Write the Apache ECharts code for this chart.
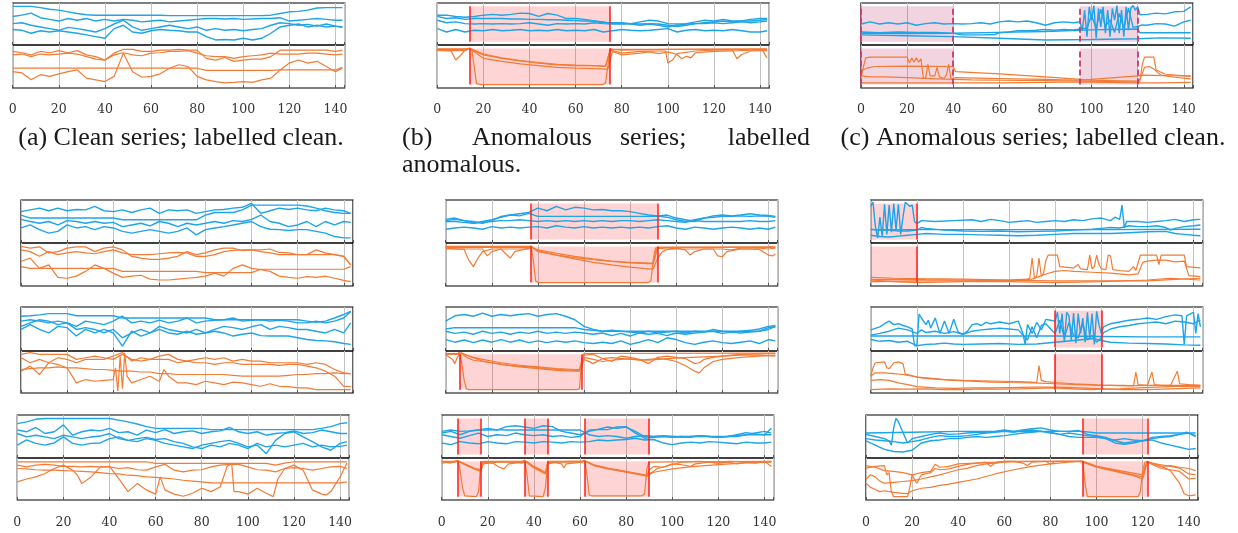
<!DOCTYPE html>
<html><head><meta charset="utf-8">
<script src="https://cdn.jsdelivr.net/npm/echarts@6/dist/echarts.min.js"></script>
<style>html,body{margin:0;padding:0;background:#fff}#c{width:1238px;height:533px}</style>
</head><body><div id="c"></div>
<script>
// shared x positions for evenly sampled series
const X = [0,4,8,12,16,20,24,28,32,36,40,44,48,52,56,60,64,68,72,76,80,84,88,92,96,100,104,108,112,116,120,124,128,132,136,140,143];
const X_TICKS = [0,20,40,60,80,100,120,140];

// (a)
const a_b1 = [92,92,92,89,85,83,79,75,72,71,71,71,71,71,71,71,71,70,70,70,70,70,70,70,70,70,70,70,71,75,79,80,83,88,89,89,89];
const a_b2 = [68,71,76,65,61,57,63,59,63,57,61,57,61,59,55,57,59,55,57,59,61,63,63,62,63,61,62,63,63,65,57,59,61,63,61,59,59];
const a_b3 = [51,53,47,43,39,35,42,39,35,31,39,50,59,43,35,39,43,47,43,39,43,35,39,35,37,34,37,39,47,53,51,47,49,45,50,45,43];
const a_b4 = [37,35,28,34,31,34,31,28,24,20,16,39,47,31,28,34,37,35,34,31,31,20,12,13,12,16,12,16,28,43,47,50,43,47,43,45,42];
const a_o1 = [85,82,77,85,82,87,82,87,77,73,65,81,90,90,85,85,88,88,90,88,88,69,65,71,62,65,67,67,73,88,88,88,88,88,88,85,88];
const a_o2 = [77,79,73,79,77,79,81,79,73,67,65,77,82,77,75,81,82,85,85,87,81,75,73,73,69,73,75,77,81,79,79,79,81,81,79,77,79];
const a_o3 = [46,46,46,46,46,46,46,46,46,46,46,46,46,46,46,46,46,46,46,46,46,41,41,41,41,41,41,41,41,42,42,42,42,42,42,42,48];
const a_o4 = [38,35,19,31,27,33,38,42,23,19,15,27,81,38,25,27,33,46,54,50,27,19,15,12,13,15,13,19,23,42,58,65,58,62,50,38,46];

// (b)
const b_b1 = [71,71,68,66,68,71,73,71,73,76,75,68,75,71,63,63,61,57,53,53,53,51,55,59,57,51,50,51,55,59,57,61,57,57,61,63,63];
const b_b2 = [68,63,65,61,63,63,63,63,62,62,61,61,60,60,59,58,57,57,55,51,50,51,50,51,50,47,44,47,51,53,55,57,55,57,57,59,61];
const b_b3 = [59,53,55,51,50,51,50,51,50,51,53,50,47,51,50,51,50,53,51,50,51,50,47,50,47,43,47,50,51,51,53,51,53,55,53,55,57];
const b_b4 = [39,31,37,31,35,34,37,34,35,37,34,35,34,37,34,35,34,37,31,34,37,35,34,35,37,39,31,35,37,34,35,34,37,34,31,31,34];
const b_o1 = [[0,90],[12,90],[14,92],[15,88],[17,10],[19,8],[72,8],[73,12],[75,92],[76,90],[100,90],[143,90]];
const b_o2 = [[0,88],[6,86],[8,65],[10,75],[12,88],[14,92],[16,86],[20,77],[28,69],[36,63],[44,58],[52,54],[60,52],[68,52],[73,50],[75,88],[80,81],[88,85],[96,86],[99,86],[100,58],[102,65],[104,80],[112,86],[120,88],[128,88],[130,68],[132,78],[136,86],[143,87]];
const b_o3 = [[0,87],[12,87],[14,92],[16,84],[20,69],[28,62],[36,56],[44,52],[52,48],[60,46],[68,45],[74,44],[76,85],[80,77],[88,81],[92,84],[96,80],[100,84],[104,78],[106,68],[108,74],[110,70],[112,82],[120,85],[128,86],[136,88],[141,88],[143,70]];
const b_o4 = [[0,91],[13,91],[14,93],[16,88],[20,79],[28,70],[36,64],[44,59],[52,55],[60,53],[68,52],[73,51],[75,90],[80,88],[100,90],[143,91]];
const b_spans = [[14,75]];
const b_edges = [14,75];

// (c)
const c_b1 = [[0,50],[4,55],[8,50],[12,53],[16,50],[20,53],[24,47],[28,51],[32,53],[36,50],[40,51],[44,50],[48,51],[52,53],[56,50],[60,55],[64,57],[68,55],[72,57],[76,53],[80,47],[84,53],[88,55],[92,53],[95,55],[96,35],[97,83],[98,20],[99,91],[100,59],[101,94],[102,16],[103,87],[104,43],[105,91],[106,28],[107,83],[108,20],[109,87],[110,59],[111,94],[112,28],[113,83],[114,20],[115,91],[116,35],[117,87],[118,94],[119,83],[120,91],[121,72],[124,73],[128,76],[132,74],[136,79],[140,80],[143,91]];
const c_b2 = [[0,31],[8,29],[16,31],[24,30],[32,30],[40,28],[44,24],[52,24],[58,25],[60,29],[64,31],[68,34],[72,34],[76,35],[80,37],[84,35],[88,37],[92,36],[95,38],[98,40],[100,70],[102,40],[104,85],[106,45],[108,60],[110,30],[112,75],[114,40],[116,88],[118,42],[120,44],[122,48],[124,47],[128,51],[132,50],[136,45],[140,55],[143,59]];
const c_b3 = [[0,28],[20,27],[40,28],[60,30],[80,32],[100,36],[120,38],[121,29],[143,29]];
const c_b4 = [[0,24],[20,22],[40,20],[60,16],[80,12],[100,13],[120,15],[130,17],[143,16]];
const c_o1 = [[0,25],[2,70],[4,72],[20,72],[21,58],[22,70],[23,60],[24,70],[25,60],[26,68],[27,24],[28,22],[29,55],[30,28],[32,28],[33,48],[34,26],[36,22],[37,30],[38,55],[39,22],[40,20],[48,19],[60,18],[80,17],[95,16],[110,15],[120,14],[121,16],[122,55],[123,72],[127,72],[128,42],[132,32],[143,27]];
const c_o2 = [[0,40],[3,47],[6,50],[20,51],[40,50],[41,38],[60,33],[80,26],[95,20],[100,18],[120,16],[121,20],[123,48],[125,50],[127,44],[130,30],[136,25],[143,21]];
const c_o3 = [[0,28],[4,26],[10,26],[20,24],[30,22],[40,20],[41,24],[60,22],[80,20],[95,18],[100,20],[110,24],[120,28],[122,30],[132,29],[143,28]];
const c_o4 = [[0,12],[20,12],[40,12],[60,12],[80,13],[95,14],[120,12],[130,12],[143,13]];
const c_spans = [[0,40],[95,120]];
const c_edges = [0,40,95,120];

// row 2, col 1
const r2c1_b1 = [73,77,81,75,81,75,78,77,85,75,73,77,71,77,81,69,77,75,77,69,73,77,78,81,83,92,69,75,81,78,81,77,75,81,77,75,69];
const r2c1_b2 = [65,58,58,58,58,58,58,58,58,58,58,54,54,54,54,54,54,54,54,54,65,71,71,71,77,88,88,88,88,88,88,86,81,75,71,69,69];
const r2c1_b3 = [55,50,46,50,42,52,50,46,50,46,48,38,42,46,40,50,46,38,46,42,46,50,46,52,50,55,65,50,46,38,42,50,38,50,42,50,48];
const r2c1_b4 = [35,42,31,23,27,42,35,38,31,38,35,27,23,27,31,27,23,27,35,19,31,35,38,42,46,50,38,32,31,29,31,31,27,23,15,12,12];
const r2c1_o1 = [92,88,91,77,80,88,91,91,80,88,91,84,69,65,62,62,65,69,80,73,77,84,88,88,82,84,84,86,78,77,73,73,84,77,73,69,49];
const r2c1_o2 = [84,80,69,80,73,77,80,77,75,80,84,77,73,73,73,75,77,78,77,69,69,73,80,83,84,84,80,77,73,73,73,73,73,73,73,69,49];
const r2c1_o3 = [45,41,41,41,41,41,41,41,41,41,41,34,34,34,34,34,34,34,34,34,31,31,31,31,31,31,39,39,39,39,39,39,39,39,39,39,45];
const r2c1_o4 = [57,65,41,49,20,18,23,34,49,41,30,20,23,25,16,14,14,16,18,20,23,30,23,41,49,41,38,34,23,20,18,22,20,23,18,13,10];

// row 3, col 1
const r3c1_b1 = [79,80,82,85,85,85,80,80,80,80,80,75,75,75,75,75,75,75,75,75,75,71,71,71,71,71,71,71,71,71,71,68,65,68,75,83,90];
const r3c1_b2 = [68,71,68,64,68,64,56,68,64,60,68,79,64,68,64,70,64,68,75,64,68,70,71,75,68,70,71,68,70,68,64,64,68,64,68,75,90];
const r3c1_b3 = [56,64,71,68,60,64,49,53,49,41,49,30,41,49,41,56,49,45,41,49,41,49,56,53,49,55,60,49,56,53,49,49,45,41,49,41,64];
const r3c1_b4 = [49,60,49,41,56,53,34,49,41,49,41,11,45,34,41,49,41,38,45,38,41,45,41,34,38,41,35,34,34,34,30,26,24,23,21,17,15];
const r3c1_o1 = [92,96,92,92,92,92,80,84,88,84,80,92,80,76,80,88,92,80,76,80,84,80,84,76,80,76,76,72,72,72,72,68,72,68,56,48,46];
const r3c1_o2 = [84,72,80,72,84,80,72,80,80,80,88,96,76,84,80,80,80,72,76,72,72,68,72,72,68,68,68,68,66,68,68,64,60,52,40,16,15];
const r3c1_o3 = [56,58,60,60,62,60,60,58,56,56,54,52,52,50,50,46,46,44,44,44,44,44,44,42,40,40,40,40,40,42,44,44,46,46,48,46,46];
const r3c1_o4 = [[0,52],[4,64],[8,44],[12,72],[16,68],[20,60],[24,24],[28,32],[32,28],[36,30],[40,32],[41,60],[42,5],[43,88],[44,10],[45,95],[46,40],[48,24],[52,32],[56,40],[60,28],[62,56],[64,40],[68,24],[72,24],[76,20],[80,28],[84,24],[88,20],[92,26],[96,24],[100,20],[104,16],[108,22],[112,16],[116,15],[120,12],[124,12],[128,8],[136,8],[143,8]];

// row 4, col 1
const r4c1_b1 = [80,84,90,92,92,92,92,92,92,92,92,88,84,79,73,69,69,69,69,69,69,66,66,66,66,66,66,66,66,66,66,66,66,69,73,80,82];
const r4c1_b2 = [65,61,71,57,61,77,53,61,65,63,69,59,61,53,65,59,66,57,61,63,57,61,63,71,61,57,61,53,57,59,63,57,59,65,61,57,57];
const r4c1_b3 = [57,49,53,49,45,53,49,45,49,51,57,45,41,38,45,41,34,30,26,22,30,34,38,41,34,26,30,10,41,57,61,49,38,26,18,34,38];
const r4c1_b4 = [30,42,34,30,35,49,34,30,34,35,45,49,41,45,48,43,45,38,34,26,22,30,26,34,30,22,34,26,30,26,30,34,26,30,26,27,30];
const r4c1_o1 = [91,91,91,91,91,91,91,91,91,91,91,91,91,91,91,87,87,87,87,87,87,87,87,87,87,87,87,87,83,88,91,91,91,91,91,91,91];
const r4c1_o2 = [83,79,83,85,83,80,80,79,80,79,79,75,77,72,71,79,85,71,67,71,72,79,83,85,85,79,72,71,67,75,77,75,71,75,79,80,75];
const r4c1_o3 = [75,74,72,71,71,70,69,68,67,65,63,62,59,58,55,54,52,50,47,45,43,41,41,41,41,41,41,41,41,41,41,41,41,41,41,41,43];
const r4c1_o4 = [[0,43],[4,50],[8,55],[12,63],[16,75],[20,83],[24,71],[26,60],[28,39],[32,55],[36,79],[40,80],[44,51],[48,20],[52,39],[56,24],[60,14],[62,55],[64,24],[68,14],[72,9],[76,16],[80,28],[84,20],[88,31],[91,80],[93,87],[94,20],[96,20],[100,14],[104,28],[108,16],[111,8],[113,50],[116,75],[120,83],[124,71],[128,24],[132,14],[134,12],[136,20],[140,55],[143,88]];

// row 2, col 2
const r2c2_b1 = [55,58,52,50,46,52,62,65,68,71,81,75,85,77,83,81,77,78,75,75,73,69,65,63,65,58,54,50,58,63,65,63,65,68,65,64,62];
const r2c2_b2 = [52,55,52,46,50,54,60,65,63,69,62,62,62,62,62,62,62,62,62,62,62,62,62,62,60,54,50,54,58,60,62,62,63,62,63,62,60];
const r2c2_b3 = [50,50,48,46,48,50,52,52,54,52,50,52,50,52,50,52,50,52,50,52,52,50,52,54,52,50,48,52,50,50,50,50,50,52,50,50,52];
const r2c2_b4 = [32,35,37,35,32,38,35,37,35,37,38,35,40,37,35,38,35,37,35,37,35,37,35,38,40,35,32,37,35,32,35,37,35,32,35,32,37];
const r2c2_o1 = [[0,90],[36,90],[37,93],[38,60],[39,12],[40,8],[88,8],[89,12],[90,60],[91,88],[92,90],[143,91]];
const r2c2_o2 = [[0,88],[8,85],[10,60],[12,45],[14,65],[16,80],[20,86],[24,86],[26,75],[28,65],[30,80],[36,88],[37,92],[40,80],[48,72],[56,66],[64,61],[72,57],[80,54],[88,52],[90,52],[91,70],[92,88],[96,86],[100,88],[104,84],[106,72],[108,80],[112,86],[120,86],[124,84],[128,88],[136,88],[140,86],[143,88]];
const r2c2_o3 = [[0,86],[16,86],[18,70],[20,80],[24,86],[36,86],[37,92],[40,82],[48,72],[56,63],[64,55],[72,49],[80,44],[88,40],[90,40],[92,65],[94,80],[96,85],[100,86],[108,86],[116,86],[118,70],[120,68],[122,80],[128,86],[136,85],[140,72],[142,70],[143,75]];
const r2c2_o4 = [[0,92],[36,92],[37,93],[38,88],[40,84],[48,76],[56,69],[64,63],[72,58],[80,55],[88,53],[90,53],[91,80],[92,90],[143,90]];
const r2c2_spans = [[37,92]];
const r2c2_edges = [37,92];

// row 3, col 2
const r3c2_b1 = [68,80,83,79,86,79,83,80,83,85,79,83,85,79,71,56,49,45,47,45,43,41,45,41,43,45,41,45,43,49,45,43,45,47,50,56,58];
const r3c2_b2 = [50,53,53,53,53,53,53,53,53,53,53,53,53,53,53,49,47,45,45,45,45,45,45,45,45,45,45,45,45,45,45,45,45,45,45,53,55];
const r3c2_b3 = [45,40,43,38,45,40,43,38,43,40,45,40,43,40,43,41,38,41,35,40,34,41,38,40,35,41,38,41,43,45,40,43,41,43,45,49,56];
const r3c2_b4 = [26,20,25,19,25,20,26,20,25,19,23,19,23,20,23,19,17,20,17,23,15,20,26,19,30,26,19,15,20,23,19,17,20,23,17,26,23];
const r3c2_o1 = [[0,94],[5,94],[6,96],[7,70],[8,30],[9,10],[10,8],[57,8],[58,10],[59,80],[60,94],[143,95]];
const r3c2_o2 = [[0,92],[5,92],[6,96],[8,92],[12,85],[16,80],[24,72],[32,66],[40,62],[48,58],[56,56],[58,56],[59,75],[60,90],[64,92],[68,82],[72,75],[76,88],[80,85],[84,80],[88,70],[92,85],[96,88],[100,85],[104,82],[108,70],[110,72],[112,80],[116,85],[120,88],[124,90],[128,92],[136,93],[143,94]];
const r3c2_o3 = [[0,93],[6,92],[7,95],[10,88],[16,76],[24,68],[32,62],[40,58],[48,54],[56,52],[58,52],[59,60],[60,85],[64,80],[68,75],[72,78],[76,80],[80,82],[84,78],[88,80],[92,82],[96,80],[100,75],[104,65],[108,52],[110,48],[112,60],[116,75],[120,80],[128,85],[136,88],[143,90]];
const r3c2_o4 = [[0,91],[3,80],[4,70],[5,85],[6,92],[7,95],[9,85],[12,78],[20,72],[28,66],[36,62],[44,58],[52,55],[58,54],[59,70],[60,80],[64,70],[68,82],[72,84],[80,80],[88,78],[96,82],[104,84],[112,86],[120,88],[128,90],[136,90],[143,88]];
const r3c2_spans = [[6,59]];
const r3c2_edges = [6,59];

// row 4, col 2
const r4c2_b1 = [58,62,54,62,65,69,65,73,75,72,69,75,73,62,58,54,62,67,72,69,72,62,50,50,50,50,50,50,50,50,50,50,50,54,54,54,69];
const r4c2_b2 = [62,65,62,63,65,65,66,65,65,65,65,65,65,65,65,65,54,50,52,50,46,50,52,50,52,50,48,50,52,50,48,50,52,54,58,62,58];
const r4c2_b3 = [54,50,46,52,58,50,54,52,58,54,52,54,50,52,48,50,65,66,66,72,73,58,46,48,50,48,50,48,52,50,48,50,54,59,56,54,54];
const r4c2_b4 = [35,31,38,35,33,38,35,33,38,37,35,38,37,35,38,37,38,42,40,42,43,46,42,43,35,31,35,37,35,38,37,35,33,37,35,35,37];
const r4c2_o1 = [[0,92],[6,92],[7,94],[8,70],[9,30],[10,10],[15,8],[16,20],[17,90],[18,92],[35,92],[36,95],[37,60],[38,10],[44,8],[45,30],[46,92],[61,92],[62,95],[63,60],[64,12],[65,10],[87,10],[88,15],[89,75],[90,90],[100,91],[143,92]];
const r4c2_o2 = [[0,90],[6,90],[7,94],[10,86],[14,76],[17,72],[18,90],[22,88],[25,78],[27,74],[29,86],[35,90],[36,94],[40,80],[45,66],[46,88],[48,90],[52,86],[53,76],[54,86],[61,90],[62,94],[66,84],[72,76],[80,68],[88,60],[89,58],[90,72],[92,80],[96,78],[100,86],[104,84],[108,80],[110,86],[116,90],[120,88],[124,90],[128,86],[132,90],[136,88],[140,92],[143,80]];
const r4c2_o3 = [[0,88],[7,93],[10,84],[14,74],[17,68],[18,86],[24,90],[30,90],[35,88],[36,93],[40,76],[45,62],[46,86],[50,90],[60,90],[62,93],[66,82],[72,74],[80,66],[88,58],[89,56],[90,60],[92,66],[100,74],[110,80],[120,84],[130,88],[143,90]];
const r4c2_o4 = [[0,91],[4,88],[6,92],[7,93],[10,85],[14,75],[17,70],[18,91],[36,91],[37,92],[40,78],[45,64],[46,90],[56,92],[61,92],[62,93],[66,83],[72,75],[80,67],[88,59],[90,62],[94,76],[100,84],[104,90],[112,92],[120,88],[124,92],[136,90],[143,92]];
const r4c2_spans = [[7,17],[36,46],[62,90]];
const r4c2_edges = [7,17,36,46,62,90];

// row 2, col 3
const r2c3_b1 = [[0,85],[1,95],[2,40],[3,12],[4,60],[5,15],[6,90],[7,20],[8,88],[9,25],[10,92],[11,30],[12,90],[13,20],[14,60],[15,95],[16,90],[17,85],[18,88],[19,50],[20,45],[22,52],[28,50],[36,52],[44,54],[48,50],[52,55],[56,52],[60,48],[64,50],[68,52],[72,48],[76,50],[80,52],[84,50],[88,54],[92,52],[96,56],[100,58],[104,52],[106,60],[108,55],[109,88],[110,35],[111,50],[116,50],[120,48],[124,50],[128,52],[132,55],[136,50],[140,54],[143,55]];
const r2c3_b2 = [[0,32],[4,30],[8,30],[12,28],[16,28],[20,30],[22,36],[24,34],[32,30],[40,28],[48,27],[56,28],[64,26],[72,27],[80,28],[88,30],[96,32],[100,34],[104,36],[108,35],[112,40],[116,38],[120,38],[124,40],[128,36],[130,30],[132,34],[136,38],[140,40],[143,42]];
const r2c3_b3 = [[0,31],[60,31],[100,31],[143,32]];
const r2c3_b4 = [[0,18],[4,15],[8,14],[12,16],[16,18],[20,20],[24,22],[32,20],[40,20],[48,19],[56,18],[64,17],[72,18],[80,20],[88,22],[96,22],[104,22],[112,24],[120,26],[128,27],[132,22],[136,20],[140,18],[143,17]];
const r2c3_o1 = [[0,20],[10,18],[20,17],[40,16],[60,14],[68,16],[69,18],[70,65],[71,20],[72,22],[73,65],[74,22],[75,30],[76,60],[77,72],[81,72],[82,45],[84,44],[88,42],[90,50],[91,40],[94,38],[95,72],[96,40],[97,45],[98,72],[99,50],[100,40],[102,38],[103,72],[104,70],[105,38],[108,36],[112,34],[114,45],[115,36],[117,72],[124,72],[125,50],[126,72],[136,72],[137,45],[143,42]];
const r2c3_o2 = [[0,15],[20,16],[24,15],[40,14],[60,13],[70,16],[76,28],[80,34],[84,36],[88,34],[96,32],[104,30],[112,26],[116,28],[118,55],[120,58],[124,60],[128,60],[132,56],[136,58],[138,24],[143,22]];
const r2c3_o3 = [[0,10],[20,12],[40,12],[60,13],[80,12],[100,12],[120,12],[130,15],[143,18]];
const r2c3_o4 = [[0,14],[10,10],[20,8],[40,10],[60,10],[80,8],[100,10],[120,14],[130,18],[143,14]];
const r2c3_spans = [[0,20]];
const r2c3_edges = [20];

// row 3, col 3
const r3c3_b1 = [[0,48],[4,55],[6,62],[8,68],[10,60],[12,62],[14,58],[16,55],[18,50],[19,12],[20,12],[21,84],[22,75],[24,60],[25,70],[26,52],[28,75],[30,40],[32,68],[34,40],[36,72],[38,42],[40,38],[42,45],[44,60],[46,62],[48,58],[50,65],[52,62],[56,66],[60,62],[64,68],[66,40],[67,15],[68,60],[70,40],[72,65],[74,48],[76,72],[78,70],[80,68],[81,88],[82,40],[83,85],[84,20],[85,88],[86,80],[87,25],[88,86],[89,18],[90,85],[91,40],[92,75],[93,20],[94,88],[95,30],[96,85],[97,15],[98,90],[99,60],[100,40],[101,55],[104,62],[108,66],[112,70],[116,72],[120,75],[124,72],[128,78],[132,82],[135,80],[136,15],[137,80],[140,88],[141,40],[142,85],[143,55]];
const r3c3_b2 = [[0,36],[4,40],[8,45],[12,52],[16,48],[18,44],[20,40],[22,48],[24,42],[28,45],[32,40],[36,44],[40,38],[44,45],[48,48],[52,50],[56,52],[60,50],[64,48],[68,25],[70,55],[72,30],[74,58],[76,62],[78,50],[80,40],[82,70],[84,30],[86,65],[88,35],[90,30],[92,60],[94,25],[96,35],[98,20],[100,30],[101,42],[104,50],[108,55],[112,58],[116,62],[120,64],[124,66],[128,62],[132,68],[136,66],[140,62],[143,70]];
const r3c3_b3 = [[0,34],[20,34],[40,34],[60,34],[80,34],[100,33],[120,32],[143,32]];
const r3c3_b4 = [[0,26],[4,22],[8,24],[12,20],[16,22],[20,12],[24,15],[28,16],[32,18],[36,16],[40,15],[48,16],[56,17],[64,15],[72,16],[80,20],[88,24],[96,28],[100,24],[104,20],[112,18],[120,17],[128,16],[136,14],[143,13]];
const r3c3_o1 = [[0,40],[1,60],[2,72],[6,74],[7,60],[8,58],[10,72],[12,74],[14,70],[15,45],[16,44],[20,38],[24,36],[28,34],[32,32],[40,30],[48,29],[56,28],[64,27],[70,26],[72,25],[73,65],[74,30],[76,27],[80,25],[88,22],[96,20],[100,18],[104,18],[110,17],[120,18],[128,18],[136,18],[143,18]];
const r3c3_o2 = [[0,40],[2,48],[6,48],[10,46],[14,44],[18,40],[22,36],[28,33],[36,30],[44,28],[52,26],[60,25],[70,24],[80,22],[90,20],[100,18],[110,18],[114,17],[115,50],[116,20],[120,18],[122,50],[123,20],[126,18],[130,18],[133,52],[134,22],[138,20],[143,18]];
const r3c3_o3 = [[0,8],[8,10],[16,9],[24,10],[32,8],[40,8],[48,10],[56,9],[64,10],[72,11],[80,12],[88,10],[96,8],[100,9],[108,10],[116,12],[124,14],[132,16],[143,16]];
const r3c3_o4 = [[0,30],[4,32],[8,30],[12,24],[16,20],[20,15],[28,12],[36,11],[44,12],[52,12],[60,13],[70,14],[80,14],[90,12],[100,10],[110,8],[120,8],[130,10],[143,12]];
const r3c3_spans = [[80,100]];
const r3c3_edges = [80,100];

// row 4, col 3
const r4c3_b1 = [[0,58],[20,60],[40,62],[60,62],[80,62],[94,62],[100,58],[120,58],[124,58],[143,58]];
const r4c3_b2 = [[0,55],[4,50],[8,45],[10,40],[11,30],[12,70],[13,92],[14,85],[16,60],[18,35],[20,45],[24,50],[28,55],[32,58],[36,55],[40,56],[44,58],[48,60],[52,60],[56,62],[60,65],[64,62],[68,65],[72,68],[76,70],[80,65],[84,62],[88,62],[92,64],[94,60],[96,55],[100,52],[104,48],[108,40],[112,35],[116,38],[120,40],[122,42],[124,45],[128,48],[132,50],[136,55],[139,60],[141,55],[143,50]];
const r4c3_b3 = [[0,45],[4,42],[8,40],[12,38],[16,35],[20,38],[24,42],[28,48],[32,52],[36,50],[40,50],[44,52],[48,55],[52,58],[56,60],[60,62],[64,60],[68,63],[72,65],[76,62],[80,60],[84,55],[88,58],[92,55],[96,52],[100,50],[104,45],[108,35],[112,32],[116,35],[120,40],[124,48],[128,50],[132,52],[136,55],[140,58],[143,52]];
const r4c3_b4 = [[0,40],[4,30],[8,20],[12,15],[16,14],[20,18],[24,35],[28,40],[32,42],[36,45],[40,45],[44,48],[48,50],[52,48],[56,50],[60,52],[64,55],[68,58],[72,60],[76,62],[80,58],[84,55],[88,50],[92,48],[96,48],[100,48],[104,45],[108,42],[112,45],[116,42],[120,40],[124,42],[128,35],[132,30],[136,25],[140,20],[143,22]];
const r4c3_o1 = [[0,76],[4,80],[8,82],[9,60],[10,65],[11,20],[12,8],[18,8],[19,30],[20,60],[24,65],[28,68],[30,85],[32,78],[36,80],[40,86],[48,88],[56,90],[60,92],[80,92],[93,92],[94,93],[95,40],[96,8],[118,8],[119,20],[120,70],[121,90],[122,92],[124,88],[128,80],[132,82],[136,78],[140,75],[143,70]];
const r4c3_o2 = [[0,82],[4,78],[8,70],[12,68],[16,65],[20,60],[22,40],[24,60],[28,65],[30,75],[32,72],[36,74],[40,80],[44,85],[48,88],[52,90],[54,80],[56,88],[60,92],[64,92],[68,88],[70,82],[72,90],[78,92],[80,85],[82,92],[93,92],[94,90],[100,78],[108,68],[116,58],[120,50],[121,70],[122,92],[124,85],[128,75],[132,72],[136,68],[140,50],[143,52]];
const r4c3_o3 = [[0,50],[2,60],[4,55],[6,45],[8,40],[12,42],[16,44],[20,46],[24,50],[28,55],[32,60],[36,66],[40,72],[44,76],[48,82],[52,86],[56,88],[60,90],[64,91],[72,92],[94,92],[100,80],[108,70],[116,60],[120,55],[121,80],[122,90],[124,88],[128,84],[132,80],[136,76],[140,62],[143,60]];
const r4c3_o4 = [[0,40],[2,30],[4,25],[6,20],[8,22],[12,18],[16,16],[18,15],[20,22],[24,28],[28,30],[32,35],[36,38],[40,42],[48,50],[56,62],[64,72],[72,80],[80,86],[88,90],[94,92],[100,80],[110,70],[120,60],[122,90],[124,86],[128,80],[132,70],[136,40],[138,15],[140,10],[143,12]];
const r4c3_spans = [[94,122]];
const r4c3_edges = [94,122];

const panels = [
  {row:0,col:0,blue:[a_b1,a_b2,a_b3,a_b4],orange:[a_o1,a_o2,a_o3,a_o4]},
  {row:0,col:1,blue:[b_b1,b_b2,b_b3,b_b4],orange:[b_o1,b_o2,b_o3,b_o4],spans:b_spans,edges:b_edges,on:'both',kind:'red'},
  {row:0,col:2,blue:[c_b1,c_b2,c_b3,c_b4],orange:[c_o1,c_o2,c_o3,c_o4],spans:c_spans,edges:c_edges,on:'both',kind:'dash'},
  {row:1,col:0,blue:[r2c1_b1,r2c1_b2,r2c1_b3,r2c1_b4],orange:[r2c1_o1,r2c1_o2,r2c1_o3,r2c1_o4]},
  {row:2,col:0,blue:[r3c1_b1,r3c1_b2,r3c1_b3,r3c1_b4],orange:[r3c1_o1,r3c1_o2,r3c1_o3,r3c1_o4]},
  {row:3,col:0,blue:[r4c1_b1,r4c1_b2,r4c1_b3,r4c1_b4],orange:[r4c1_o1,r4c1_o2,r4c1_o3,r4c1_o4]},
  {row:1,col:1,blue:[r2c2_b1,r2c2_b2,r2c2_b3,r2c2_b4],orange:[r2c2_o1,r2c2_o2,r2c2_o3,r2c2_o4],spans:r2c2_spans,edges:r2c2_edges,on:'both',kind:'red'},
  {row:2,col:1,blue:[r3c2_b1,r3c2_b2,r3c2_b3,r3c2_b4],orange:[r3c2_o1,r3c2_o2,r3c2_o3,r3c2_o4],spans:r3c2_spans,edges:r3c2_edges,on:'orange',kind:'red'},
  {row:3,col:1,blue:[r4c2_b1,r4c2_b2,r4c2_b3,r4c2_b4],orange:[r4c2_o1,r4c2_o2,r4c2_o3,r4c2_o4],spans:r4c2_spans,edges:r4c2_edges,on:'both',kind:'red'},
  {row:1,col:2,blue:[r2c3_b1,r2c3_b2,r2c3_b3,r2c3_b4],orange:[r2c3_o1,r2c3_o2,r2c3_o3,r2c3_o4],spans:r2c3_spans,edges:r2c3_edges,on:'both',kind:'red'},
  {row:2,col:2,blue:[r3c3_b1,r3c3_b2,r3c3_b3,r3c3_b4],orange:[r3c3_o1,r3c3_o2,r3c3_o3,r3c3_o4],spans:r3c3_spans,edges:r3c3_edges,on:'both',kind:'red'},
  {row:3,col:2,blue:[r4c3_b1,r4c3_b2,r4c3_b3,r4c3_b4],orange:[r4c3_o1,r4c3_o2,r4c3_o3,r4c3_o4],spans:r4c3_spans,edges:r4c3_edges,on:'both',kind:'red'}
];

// layout (pixels)
const ROWS = [
  {top:3, mid:45, bot:88, lefts:[12.7,437.3,861], labels:true, margin:15},
  {top:200, mid:243, bot:286, lefts:[21,445.7,870.7], labels:false},
  {top:307, mid:351, bot:393, lefts:[21,445.7,870.7], labels:false},
  {top:415, mid:458, bot:500, lefts:[17.3,441.7,866], labels:true, margin:16}
];
const W = 332;
const BLUE = '#1ea4e9', ORANGE = '#f47b35';
const STY = {
  red:  {area:'rgba(255,0,0,0.17)', line:'#ff1c1c', type:'solid', width:1.5},
  dash: {area:'rgba(170,0,70,0.17)', line:'#c93a72', type:[6,3], width:1.8}
};

function toPairs(s){ return Array.isArray(s[0]) ? s : s.map((v,i)=>[X[i],v]); }

const grids=[], xAxes=[], yAxes=[], series=[];
panels.forEach(p=>{
  const R = ROWS[p.row];
  ['blue','orange'].forEach((part,k)=>{
    const gi = grids.length;
    const top = k ? R.mid : R.top, h = k ? R.bot-R.mid : R.mid-R.top;
    grids.push({left:R.lefts[p.col], top:top, width:W, height:h, show:true, borderColor:'#000', borderWidth:1.2, backgroundColor:'transparent'});
    const showLab = k===1 && R.labels;
    xAxes.push({type:'value', gridIndex:gi, min:0, max:144, interval:20,
      axisLine:{show:false},
      axisTick:{show:true, inside:true, length:3, lineStyle:{color:'#555', width:1}},
      axisLabel:{show:showLab, margin:R.margin||0, fontFamily:'DejaVu Serif', fontSize:12.5, color:'#333',
        formatter:v=> X_TICKS.indexOf(v)>=0 ? String(v) : ''},
      splitLine:{show:true, lineStyle:{color:'#c4c4c4', width:1}}
    });
    yAxes.push({type:'value', gridIndex:gi, min:0, max:100, show:false});
    const col = k ? ORANGE : BLUE;
    p[part].forEach(s=>{
      series.push({type:'line', xAxisIndex:gi, yAxisIndex:gi, data:toPairs(s), showSymbol:false, symbol:'none',
        lineStyle:{color:col, width:k?1.2:1.4}, z:2, silent:true});
    });
    if (p.spans && (p.on==='both' || p.on===part)){
      const st = STY[p.kind];
      series.push({type:'line', xAxisIndex:gi, yAxisIndex:gi, data:[], z:5, silent:true,
        markArea:{silent:true, itemStyle:{color:st.area}, label:{show:false},
          data:p.spans.map(s=>[{xAxis:s[0], yAxis:8},{xAxis:s[1], yAxis:92}])},
        markLine:{silent:true, symbol:['none','none'], label:{show:false},
          lineStyle:{color:st.line, width:st.width, type:st.type},
          data:p.edges.map(x=>[{coord:[x,8]},{coord:[x,92]}])}
      });
    }
  });
});

const FONT = '26px "Liberation Serif", serif';
const graphic = [
  {type:'text', x:181, y:138, style:{text:'(a) Clean series; labelled clean.', font:FONT, fill:'#1a1a1a', textAlign:'center', textVerticalAlign:'middle'}},
  {type:'text', x:402, y:138, style:{text:'(b)', font:FONT, fill:'#1a1a1a', textAlign:'left', textVerticalAlign:'middle'}},
  {type:'text', x:472, y:138, style:{text:'Anomalous', font:FONT, fill:'#1a1a1a', textAlign:'left', textVerticalAlign:'middle'}},
  {type:'text', x:620, y:138, style:{text:'series;', font:FONT, fill:'#1a1a1a', textAlign:'left', textVerticalAlign:'middle'}},
  {type:'text', x:810, y:138, style:{text:'labelled', font:FONT, fill:'#1a1a1a', textAlign:'right', textVerticalAlign:'middle'}},
  {type:'text', x:402, y:165, style:{text:'anomalous.', font:FONT, fill:'#1a1a1a', textAlign:'left', textVerticalAlign:'middle'}},
  {type:'text', x:1033, y:138, style:{text:'(c) Anomalous series; labelled clean.', font:FONT, fill:'#1a1a1a', textAlign:'center', textVerticalAlign:'middle'}}
];

const chart = echarts.init(document.getElementById('c'), null, {renderer:'canvas'});
chart.setOption({animation:false, backgroundColor:'#fff', grid:grids, xAxis:xAxes, yAxis:yAxes, series:series, graphic:graphic});
</script>
</body></html>
